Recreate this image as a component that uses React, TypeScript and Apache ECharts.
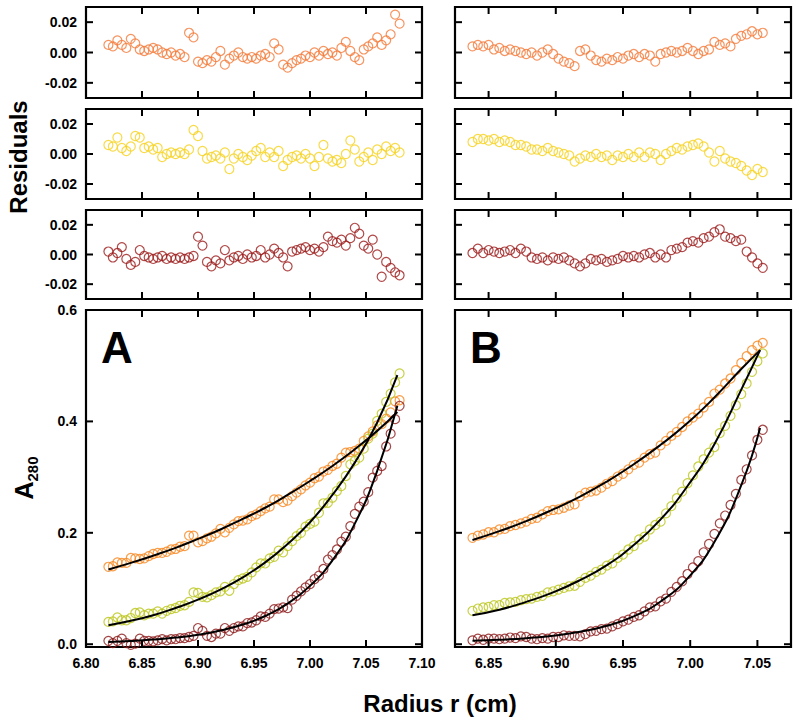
import React, { useEffect, useRef } from "react";
import * as echarts from "echarts";

// ---------- data ----------
const radiusA = [6.820,6.824,6.828,6.832,6.836,6.840,6.844,6.848,6.852,6.856,6.860,6.864,6.868,6.872,6.876,6.880,6.884,6.888,6.892,6.896,6.900,6.904,6.908,6.912,6.916,6.920,6.924,6.928,6.932,6.936,6.940,6.944,6.948,6.952,6.956,6.960,6.964,6.968,6.972,6.976,6.980,6.984,6.988,6.992,6.996,7.000,7.004,7.008,7.012,7.016,7.020,7.024,7.028,7.032,7.036,7.040,7.044,7.048,7.052,7.056,7.060,7.064,7.068,7.072,7.076,7.080];
const radiusB = [6.838,6.842,6.846,6.850,6.854,6.858,6.862,6.866,6.870,6.874,6.878,6.882,6.886,6.890,6.894,6.898,6.902,6.906,6.910,6.914,6.918,6.922,6.926,6.930,6.934,6.938,6.942,6.946,6.950,6.954,6.958,6.962,6.966,6.970,6.974,6.978,6.982,6.986,6.990,6.994,6.998,7.002,7.006,7.010,7.014,7.018,7.022,7.026,7.030,7.034,7.038,7.042,7.046,7.050,7.054];

const residA_orange = [0.005,0.004,0.008,0.005,0.003,0.009,0.006,0.002,0.001,0.002,0.003,0.002,0.000,-0.001,0.000,-0.002,-0.001,-0.003,0.013,0.010,-0.006,-0.007,-0.005,-0.006,-0.003,0.001,-0.008,-0.004,-0.002,0.000,-0.003,-0.004,-0.003,-0.004,-0.002,-0.001,-0.003,0.006,0.002,-0.008,-0.010,-0.007,-0.005,-0.004,-0.002,-0.003,0.000,-0.002,0.001,-0.001,0.000,-0.002,0.003,0.007,0.001,-0.003,-0.005,0.002,0.004,0.006,0.010,0.005,0.008,0.012,0.025,0.019];
const residA_yellow = [0.006,0.005,0.011,0.004,0.002,0.005,0.012,0.011,0.004,0.005,0.003,0.004,-0.002,0.000,0.001,0.000,0.001,0.000,0.003,0.016,0.012,0.002,-0.003,-0.002,-0.001,-0.003,0.001,-0.010,-0.003,0.000,-0.002,-0.004,-0.001,0.002,0.004,-0.002,0.001,-0.002,0.002,-0.008,-0.004,-0.002,-0.001,-0.003,0.000,-0.003,-0.008,-0.002,0.006,-0.003,-0.005,-0.004,-0.006,0.000,0.009,0.003,-0.005,-0.002,0.001,-0.004,0.003,0.000,0.005,0.002,0.004,0.001];
const residA_red = [0.002,-0.002,0.001,0.005,-0.003,-0.007,-0.005,0.003,-0.001,-0.002,-0.003,-0.002,-0.001,-0.003,-0.002,-0.003,-0.002,-0.003,-0.002,-0.001,0.012,0.006,-0.005,-0.008,-0.004,-0.006,0.003,-0.004,-0.002,-0.001,-0.003,0.000,-0.002,-0.001,0.003,-0.002,0.000,0.004,0.001,-0.002,-0.008,0.002,0.003,0.004,0.005,0.003,0.004,0.002,0.005,0.012,0.009,0.008,0.010,0.006,0.011,0.018,0.014,0.006,0.004,0.010,0.000,-0.015,-0.005,-0.009,-0.012,-0.014];

const residB_orange = [0.004,0.005,0.004,0.005,0.002,0.003,0.001,0.002,0.001,0.000,-0.001,0.000,-0.002,0.000,0.002,-0.001,-0.004,-0.006,-0.007,-0.009,0.001,0.002,-0.002,-0.005,-0.006,-0.004,-0.005,-0.003,-0.004,-0.002,-0.001,-0.003,-0.001,-0.002,-0.006,-0.001,0.000,0.001,0.000,0.001,0.003,0.001,-0.001,0.001,0.002,0.007,0.005,0.006,0.004,0.009,0.011,0.012,0.014,0.012,0.013];
const residB_yellow = [0.008,0.010,0.010,0.009,0.010,0.008,0.009,0.008,0.006,0.006,0.005,0.003,0.003,0.002,0.004,0.002,0.001,0.000,-0.001,-0.005,-0.003,-0.001,-0.002,0.000,-0.002,-0.001,-0.004,-0.001,-0.002,0.000,-0.002,0.001,-0.002,0.001,0.000,-0.004,0.000,0.002,0.004,0.003,0.005,0.006,0.007,0.005,0.001,-0.005,0.002,-0.003,-0.005,-0.006,-0.008,-0.011,-0.014,-0.010,-0.012];
const residB_red = [0.001,0.004,0.001,0.003,0.002,0.001,0.002,0.003,0.001,0.004,0.002,-0.002,-0.003,-0.002,-0.004,-0.002,-0.003,-0.002,-0.004,-0.006,-0.008,-0.006,-0.003,-0.004,-0.003,-0.005,-0.004,-0.003,-0.001,-0.002,-0.001,-0.002,0.000,0.001,-0.002,0.000,-0.002,0.003,0.004,0.005,0.008,0.009,0.008,0.011,0.012,0.015,0.017,0.012,0.011,0.009,0.010,0.002,-0.002,-0.006,-0.009];

const absA_orange = [0.139,0.140,0.147,0.146,0.146,0.155,0.154,0.153,0.154,0.158,0.162,0.164,0.164,0.166,0.170,0.171,0.175,0.176,0.195,0.195,0.183,0.185,0.190,0.193,0.199,0.207,0.201,0.209,0.215,0.221,0.222,0.224,0.230,0.233,0.239,0.244,0.247,0.260,0.260,0.255,0.258,0.266,0.272,0.278,0.285,0.290,0.298,0.301,0.310,0.313,0.320,0.324,0.335,0.344,0.345,0.347,0.351,0.365,0.373,0.382,0.393,0.395,0.405,0.416,0.436,0.438];
const absA_green = [0.040,0.041,0.048,0.043,0.043,0.047,0.056,0.057,0.052,0.055,0.055,0.059,0.055,0.060,0.063,0.065,0.069,0.070,0.076,0.093,0.092,0.085,0.084,0.088,0.093,0.095,0.103,0.096,0.108,0.115,0.118,0.121,0.129,0.138,0.145,0.145,0.154,0.157,0.168,0.165,0.176,0.185,0.194,0.200,0.211,0.216,0.220,0.236,0.253,0.254,0.263,0.275,0.284,0.302,0.323,0.329,0.335,0.351,0.369,0.378,0.401,0.414,0.435,0.450,0.470,0.486];
const absA_red = [0.006,0.002,0.006,0.010,0.002,-0.001,0.001,0.010,0.006,0.006,0.005,0.007,0.009,0.007,0.009,0.009,0.011,0.011,0.013,0.015,0.029,0.024,0.015,0.013,0.019,0.019,0.029,0.024,0.029,0.032,0.032,0.038,0.039,0.043,0.050,0.049,0.055,0.063,0.064,0.066,0.065,0.080,0.087,0.095,0.102,0.108,0.117,0.123,0.135,0.152,0.160,0.170,0.184,0.193,0.212,0.234,0.247,0.256,0.273,0.299,0.311,0.320,0.355,0.378,0.404,0.428];

const absB_orange = [0.191,0.195,0.197,0.201,0.201,0.206,0.207,0.212,0.214,0.217,0.220,0.225,0.227,0.233,0.239,0.241,0.242,0.245,0.249,0.251,0.266,0.272,0.274,0.276,0.281,0.288,0.293,0.301,0.306,0.314,0.322,0.326,0.335,0.341,0.344,0.357,0.365,0.374,0.381,0.390,0.400,0.407,0.414,0.425,0.435,0.450,0.457,0.468,0.477,0.492,0.505,0.517,0.528,0.536,0.541];
const absB_green = [0.060,0.064,0.066,0.067,0.070,0.070,0.074,0.075,0.076,0.079,0.081,0.082,0.085,0.087,0.093,0.095,0.098,0.101,0.104,0.105,0.112,0.119,0.123,0.130,0.134,0.141,0.145,0.155,0.161,0.170,0.176,0.188,0.193,0.206,0.214,0.220,0.235,0.248,0.262,0.274,0.289,0.303,0.319,0.332,0.344,0.354,0.379,0.392,0.410,0.429,0.449,0.468,0.489,0.508,0.522];
const absB_red = [0.007,0.010,0.008,0.010,0.010,0.009,0.010,0.012,0.011,0.014,0.013,0.010,0.009,0.011,0.010,0.013,0.013,0.016,0.015,0.015,0.014,0.018,0.023,0.024,0.027,0.028,0.032,0.036,0.041,0.044,0.049,0.052,0.059,0.066,0.068,0.077,0.082,0.094,0.103,0.113,0.126,0.138,0.149,0.165,0.180,0.198,0.217,0.231,0.250,0.270,0.295,0.314,0.339,0.367,0.385];

const fitRadiusA = [6.82,6.84,6.86,6.88,6.90,6.92,6.94,6.96,6.98,7.00,7.02,7.04,7.06,7.078];
const fitA_orange = [0.134,0.146,0.159,0.173,0.189,0.206,0.225,0.245,0.268,0.293,0.320,0.350,0.383,0.417];
const fitA_green = [0.034,0.042,0.052,0.065,0.080,0.098,0.120,0.147,0.180,0.219,0.268,0.326,0.398,0.483];
const fitA_red = [0.0040,0.0057,0.0083,0.0119,0.0171,0.0245,0.0353,0.0507,0.0729,0.1047,0.1506,0.2164,0.3111,0.428];

const fitRadiusB = [6.838,6.858,6.878,6.898,6.918,6.938,6.958,6.978,6.998,7.018,7.038,7.052];
const fitB_orange = [0.187,0.203,0.221,0.242,0.265,0.292,0.323,0.358,0.397,0.443,0.494,0.528];
const fitB_green = [0.052,0.062,0.076,0.093,0.115,0.142,0.178,0.224,0.284,0.359,0.457,0.528];
const fitB_red = [0.0062,0.0080,0.0108,0.0153,0.0222,0.0331,0.0501,0.0767,0.1183,0.1834,0.2854,0.388];

const residTicks = [-0.02, 0, 0.02];
const absTicks = [0, 0.2, 0.4, 0.6];
const xTicksA = [6.8, 6.85, 6.9, 6.95, 7.0, 7.05, 7.1];
const xTicksB = [6.85, 6.9, 6.95, 7.0, 7.05];

// ---------- styling ----------
const C_RES_ORANGE = "#F47B3A";
const C_RES_YELLOW = "#F6D21F";
const C_RES_RED = "#9C1C1C";
const C_ABS_ORANGE = "#F7871F";
const C_ABS_GREEN = "#BCC61C";
const C_ABS_RED = "#8C1A1A";
const FONT = "'Liberation Sans', Arial, sans-serif";
const TICK_LEN = 7;

const zip = (xs: number[], ys: number[]) => xs.map((x, i) => [x, ys[i]]);

export default function App() {
  const ref = useRef<HTMLDivElement>(null);

  useEffect(() => {
    if (!ref.current) return;
    const chart = echarts.init(ref.current, undefined, { renderer: "svg" });

    const colL = { left: 86, width: 336 };
    const colR = { left: 455, width: 336 };
    const rows = [
      { top: 7, height: 91 },
      { top: 109, height: 90 },
      { top: 210, height: 89 },
      { top: 310, height: 337 },
    ];

    type Panel = {
      col: { left: number; width: number };
      row: { top: number; height: number };
      xMin: number; xMax: number; xTicks: number[]; xLabels: boolean;
      yMin: number; yMax: number; yTicks: number[]; yLabels: boolean; yDec: number;
    };

    const panels: Panel[] = [];
    const sides = [
      { col: colL, xMin: 6.8, xMax: 7.1, xTicks: xTicksA, yLabels: true },
      { col: colR, xMin: 6.825, xMax: 7.075, xTicks: xTicksB, yLabels: false },
    ];
    sides.forEach((s) => {
      for (let r = 0; r < 4; r++) {
        const main = r === 3;
        panels.push({
          col: s.col,
          row: rows[r],
          xMin: s.xMin, xMax: s.xMax, xTicks: s.xTicks, xLabels: main,
          yMin: main ? -0.005 : -0.03,
          yMax: main ? 0.6 : 0.03,
          yTicks: main ? absTicks : residTicks,
          yLabels: s.yLabels,
          yDec: main ? 1 : 2,
        });
      }
    });

    const grid: any[] = [];
    const xAxis: any[] = [];
    const yAxis: any[] = [];

    panels.forEach((p, i) => {
      grid.push({
        left: p.col.left, top: p.row.top, width: p.col.width, height: p.row.height,
        show: true, borderColor: "#000", borderWidth: 2.2, backgroundColor: "rgba(0,0,0,0)",
        containLabel: false,
      });
      xAxis.push({
        type: "value", gridIndex: i, min: p.xMin, max: p.xMax,
        axisLine: { show: false, onZero: false },
        splitLine: { show: false },
        axisTick: { show: false },
        axisLabel: {
          show: p.xLabels, customValues: p.xTicks, margin: 9,
          formatter: (v: number) => v.toFixed(2),
          fontFamily: FONT, fontWeight: "bold", fontSize: 14, color: "#000",
        },
      });
      const dec = p.yDec;
      yAxis.push({
        type: "value", gridIndex: i, min: p.yMin, max: p.yMax,
        axisLine: { show: false, onZero: false },
        splitLine: { show: false },
        axisTick: { show: false },
        axisLabel: {
          show: p.yLabels, customValues: p.yTicks, margin: 9,
          formatter: (v: number) => (Math.abs(v) < 1e-9 ? 0 : v).toFixed(dec),
          fontFamily: FONT, fontWeight: "bold", fontSize: 14, color: "#000",
        },
      });
    });

    // inward tick marks on all four borders, positioned through the axes' own scales
    const tickSeries = (pi: number) => {
      const p = panels[pi];
      const data: number[][] = [];
      p.xTicks.forEach((v) => data.push([v, p.yMin, 0]));
      p.yTicks.forEach((v) => data.push([p.xMin, v, 1]));
      return {
        type: "custom",
        xAxisIndex: pi,
        yAxisIndex: pi,
        data,
        clip: false,
        silent: true,
        z: 6,
        renderItem: (_params: any, api: any) => {
          const kind = api.value(2);
          const style = { stroke: "#000", lineWidth: 2 };
          if (kind === 0) {
            const v = api.value(0);
            const b = api.coord([v, p.yMin]);
            const t = api.coord([v, p.yMax]);
            return {
              type: "group",
              children: [
                { type: "line", shape: { x1: b[0], y1: b[1], x2: b[0], y2: b[1] - TICK_LEN }, style },
                { type: "line", shape: { x1: t[0], y1: t[1], x2: t[0], y2: t[1] + TICK_LEN }, style },
              ],
            };
          }
          const v = api.value(1);
          const l = api.coord([p.xMin, v]);
          const r = api.coord([p.xMax, v]);
          return {
            type: "group",
            children: [
              { type: "line", shape: { x1: l[0], y1: l[1], x2: l[0] + TICK_LEN, y2: l[1] }, style },
              { type: "line", shape: { x1: r[0], y1: r[1], x2: r[0] - TICK_LEN, y2: r[1] }, style },
            ],
          };
        },
      };
    };

    const scatter = (pi: number, xs: number[], ys: number[], color: string) => ({
      type: "scatter",
      xAxisIndex: pi,
      yAxisIndex: pi,
      data: zip(xs, ys),
      symbol: "circle",
      symbolSize: 9,
      itemStyle: { color: "rgba(0,0,0,0)", borderColor: color, borderWidth: 1.2 },
      silent: true,
    });
    const fit = (pi: number, xs: number[], ys: number[]) => ({
      type: "line",
      xAxisIndex: pi,
      yAxisIndex: pi,
      data: zip(xs, ys),
      showSymbol: false,
      smooth: true,
      lineStyle: { color: "#000", width: 2 },
      z: 5,
      silent: true,
    });

    const series: any[] = [
      scatter(0, radiusA, residA_orange, C_RES_ORANGE),
      scatter(1, radiusA, residA_yellow, C_RES_YELLOW),
      scatter(2, radiusA, residA_red, C_RES_RED),
      scatter(3, radiusA, absA_orange, C_ABS_ORANGE),
      scatter(3, radiusA, absA_green, C_ABS_GREEN),
      scatter(3, radiusA, absA_red, C_ABS_RED),
      fit(3, fitRadiusA, fitA_orange),
      fit(3, fitRadiusA, fitA_green),
      fit(3, fitRadiusA, fitA_red),
      scatter(4, radiusB, residB_orange, C_RES_ORANGE),
      scatter(5, radiusB, residB_yellow, C_RES_YELLOW),
      scatter(6, radiusB, residB_red, C_RES_RED),
      scatter(7, radiusB, absB_orange, C_ABS_ORANGE),
      scatter(7, radiusB, absB_green, C_ABS_GREEN),
      scatter(7, radiusB, absB_red, C_ABS_RED),
      fit(7, fitRadiusB, fitB_orange),
      fit(7, fitRadiusB, fitB_green),
      fit(7, fitRadiusB, fitB_red),
    ];
    panels.forEach((_p, i) => series.push(tickSeries(i)));

    const txt = (text: string, x: number, y: number, size: number, rotation = 0) => ({
      type: "text",
      x, y, rotation,
      style: {
        text,
        font: `bold ${size}px ${FONT}`,
        fill: "#000",
        align: "center", verticalAlign: "middle",
        textAlign: "center", textVerticalAlign: "middle",
      },
      z: 10,
    });

    chart.setOption({
      animation: false,
      backgroundColor: "#fff",
      grid, xAxis, yAxis, series,
      graphic: [
        txt("Residuals", 18, 157, 24, Math.PI / 2),
        txt("Radius r (cm)", 440, 703, 24),
        txt("A", 117, 347, 44),
        txt("B", 486, 347, 44),
        {
          type: "text",
          x: 24, y: 478, rotation: Math.PI / 2,
          style: {
            text: "{a|A}{s|280}",
            align: "center", verticalAlign: "middle",
            textAlign: "center", textVerticalAlign: "middle",
            fill: "#000",
            rich: {
              a: { fontFamily: FONT, fontWeight: "bold", fontSize: 25, lineHeight: 32, verticalAlign: "middle" },
              s: { fontFamily: FONT, fontWeight: "bold", fontSize: 15, lineHeight: 32, verticalAlign: "bottom", padding: [10, 0, 0, 0] },
            },
          },
          z: 10,
        },
      ],
    });

    return () => chart.dispose();
  }, []);

  return (
    <div
      ref={ref}
      style={{ position: "fixed", left: 0, top: 0, width: 800, height: 725, background: "#fff" }}
    />
  );
}
